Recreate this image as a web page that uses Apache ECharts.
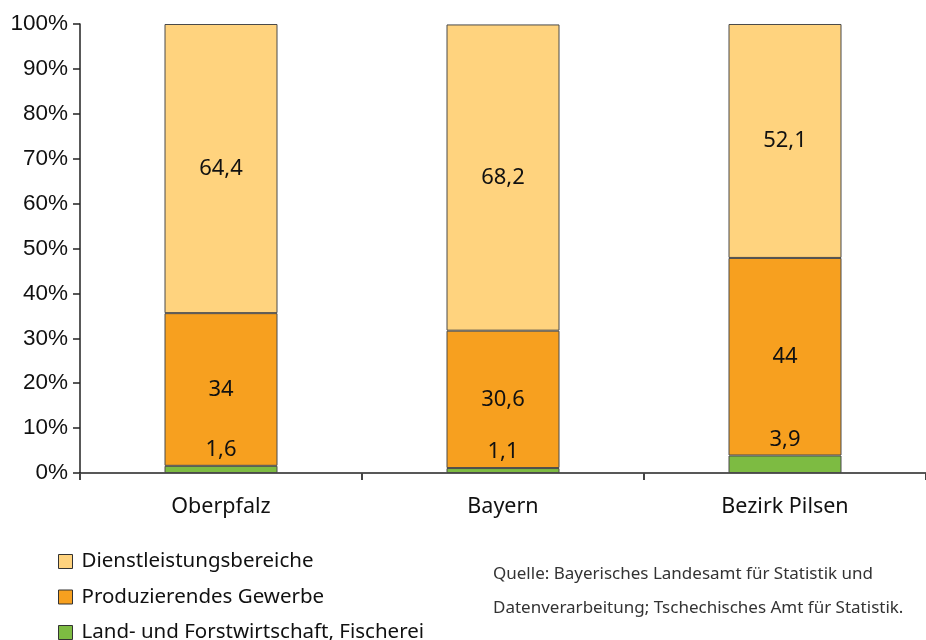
<!DOCTYPE html>
<html>
<head>
<meta charset="utf-8">
<script src="https://cdn.jsdelivr.net/npm/echarts@6/dist/echarts.min.js"></script>
<style>
  html, body { margin: 0; padding: 0; background: #fff; }
  #chart { width: 926px; height: 640px; }
</style>
</head>
<body>
<div id="chart"></div>
<script>
const categories = ['Oberpfalz', 'Bayern', 'Bezirk Pilsen']
const landwirtschaft = [1.6, 1.1, 3.9]
const gewerbe = [34, 30.6, 44]
const dienstleistung = [64.4, 68.2, 52.1]
const yTicks = [0, 10, 20, 30, 40, 50, 60, 70, 80, 90, 100]

const chart = echarts.init(document.getElementById('chart'))
const fmt = p => String(p.value).replace('.', ',')
const labelFont = { fontFamily: 'Noto Sans', fontSize: 22, color: '#111' }
const border = { borderColor: '#4a4a4a', borderWidth: 1 }

chart.setOption({
  animation: false,
  grid: { left: 80, right: -3, top: 24, bottom: 167 },
  legend: {
    orient: 'vertical',
    left: 53,
    top: 546,
    height: 120,
    icon: 'rect',
    itemWidth: 14,
    itemHeight: 14,
    itemGap: 14.5,
    itemStyle: { borderColor: '#333', borderWidth: 1 },
    textStyle: { fontFamily: 'Noto Sans', fontSize: 20.5, color: '#111', padding: [0, 0, 0, 4] },
    data: ['Dienstleistungsbereiche', 'Produzierendes Gewerbe', 'Land- und Forstwirtschaft, Fischerei']
  },
  xAxis: {
    type: 'category',
    data: categories,
    axisLine: { lineStyle: { color: '#222', width: 1.5 } },
    axisTick: { show: true, length: 7, lineStyle: { color: '#444', width: 2 } },
    axisLabel: { fontFamily: 'Noto Sans', fontSize: 21.5, color: '#111', margin: 23 }
  },
  yAxis: {
    type: 'value',
    min: 0,
    max: 100,
    interval: 10,
    axisLine: { show: true, lineStyle: { color: '#222', width: 1.5 } },
    axisTick: { show: true, length: 7, lineStyle: { color: '#222', width: 1.5 } },
    splitLine: { show: false },
    axisLabel: {
      fontFamily: 'Liberation Sans',
      fontSize: 22.5,
      color: '#111',
      margin: 12,
      formatter: v => (yTicks.includes(v) ? v + '%' : '')
    }
  },
  series: [
    {
      name: 'Land- und Forstwirtschaft, Fischerei',
      type: 'bar',
      stack: 'a',
      barWidth: 113,
      data: landwirtschaft,
      itemStyle: Object.assign({ color: '#7dbb42' }, border),
      label: Object.assign({ show: true, position: 'top', distance: 5, formatter: fmt }, labelFont)
    },
    {
      name: 'Produzierendes Gewerbe',
      type: 'bar',
      stack: 'a',
      data: gewerbe,
      itemStyle: Object.assign({ color: '#f7a01f' }, border),
      label: Object.assign({ show: true, position: 'inside', formatter: fmt }, labelFont)
    },
    {
      name: 'Dienstleistungsbereiche',
      type: 'bar',
      stack: 'a',
      data: dienstleistung,
      itemStyle: Object.assign({ color: '#ffd37e' }, border),
      label: Object.assign({ show: true, position: 'inside', formatter: fmt }, labelFont)
    }
  ],
  graphic: [
    {
      type: 'text',
      left: 493,
      top: 557,
      style: {
        text: 'Quelle: Bayerisches Landesamt für Statistik und\nDatenverarbeitung; Tschechisches Amt für Statistik.',
        fontFamily: 'Noto Sans',
        fontSize: 17,
        lineHeight: 34,
        fill: '#333'
      }
    }
  ]
})
</script>
</body>
</html>
